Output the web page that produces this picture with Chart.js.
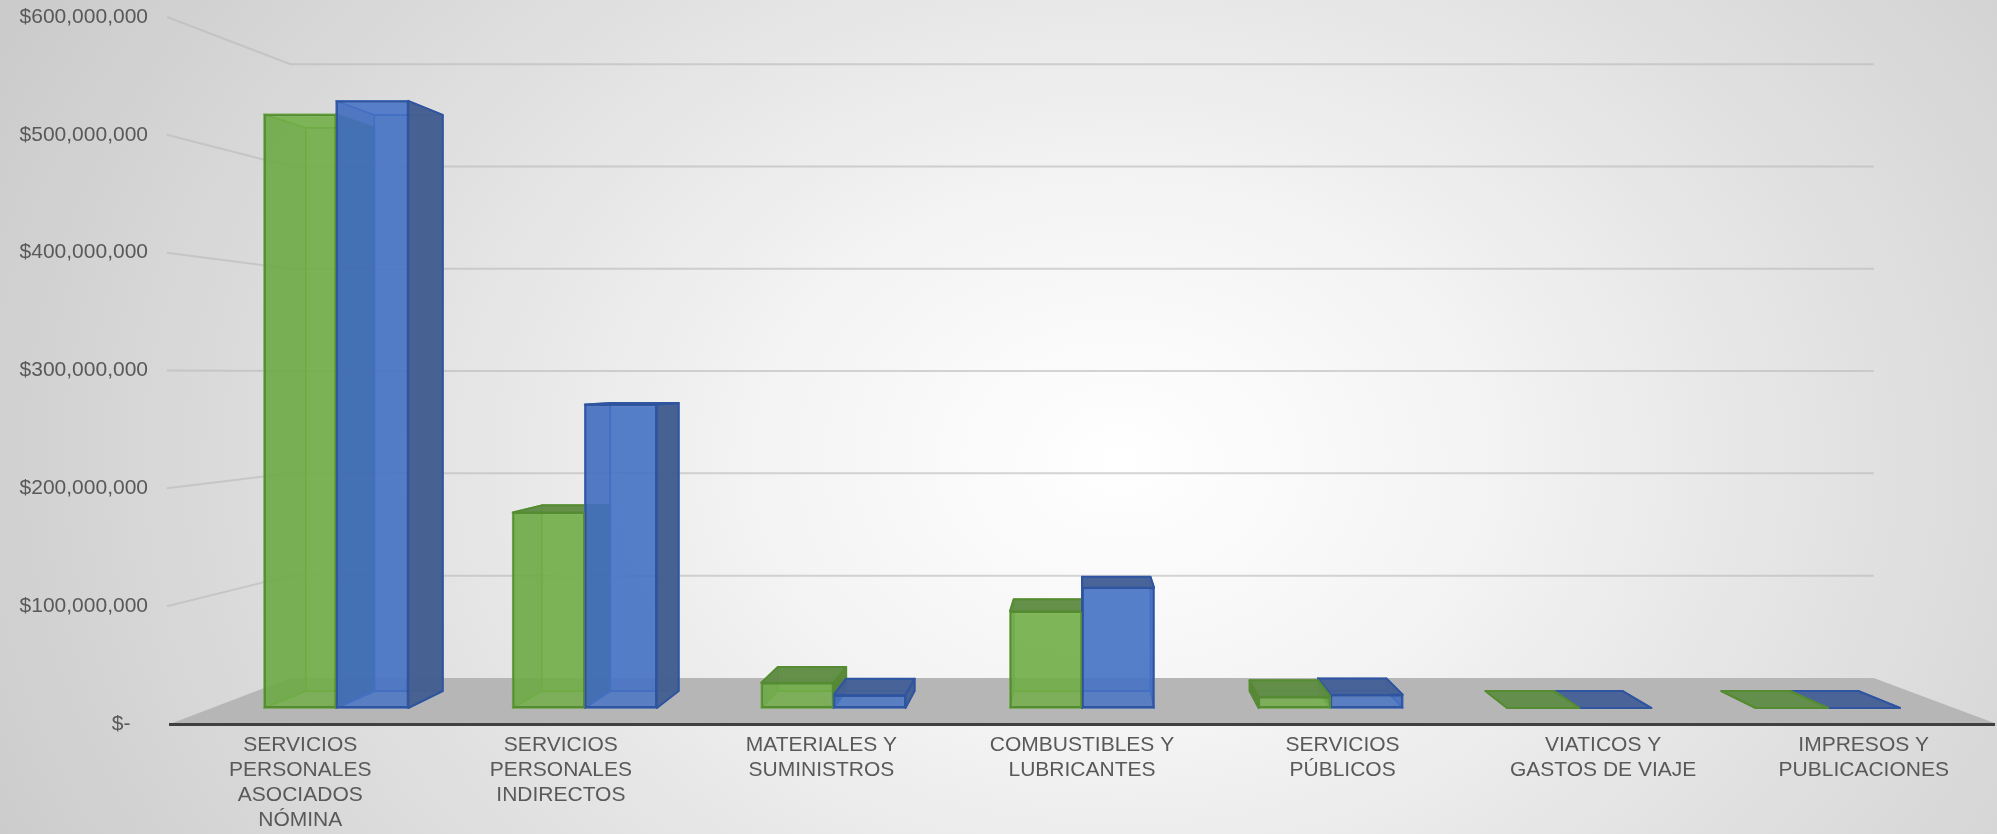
<!DOCTYPE html>
<html lang="es">
<head>
<meta charset="utf-8">
<title>Gastos por concepto</title>
<script src="https://cdn.jsdelivr.net/npm/chart.js@4.4.1/dist/chart.umd.min.js"></script>
<style>
  html, body { margin: 0; padding: 0; overflow: hidden; }
  body {
    width: 1997px;
    height: 834px;
    background: radial-gradient(ellipse 1250px 950px at 1120px 460px, #ffffff 0%, #f4f4f4 28%, #e1e1e1 60%, #cbcbcb 100%);
  }
  #wrap { position: relative; width: 1997px; height: 834px; }
</style>
</head>
<body>
<div id="wrap"><canvas id="gastosChart"></canvas></div>
<script>
const categorias = [
    ['SERVICIOS', 'PERSONALES', 'ASOCIADOS', 'NÓMINA'],
    ['SERVICIOS', 'PERSONALES', 'INDIRECTOS'],
    ['MATERIALES Y', 'SUMINISTROS'],
    ['COMBUSTIBLES Y', 'LUBRICANTES'],
    ['SERVICIOS', 'PÚBLICOS'],
    ['VIATICOS Y', 'GASTOS DE VIAJE'],
    ['IMPRESOS Y', 'PUBLICACIONES']
];
const serieVerde = [528000000, 174000000, 22500000, 86000000, 10000000, 0, 0];
const serieAzul = [540000000, 270000000, 11500000, 107000000, 11800000, 0, 0];
const ejeMax = 600000000;
const ejePaso = 100000000;

// perspectiva: cada plano paralelo a la pantalla se escala hacia el punto de fuga
const PUNTO_FUGA = { x: 1083, y: 375 };
const PROF_FRENTE = 0.9542;
const PROF_FONDO = 0.9054;
const PROF_PARED = 0.868;

function proyectar(x, y, k) {
    return [PUNTO_FUGA.x + (x - PUNTO_FUGA.x) * k, PUNTO_FUGA.y + (y - PUNTO_FUGA.y) * k];
}

function poligono(ctx, pts, relleno, linea, grosor) {
    ctx.beginPath();
    ctx.moveTo(pts[0][0], pts[0][1]);
    for (let i = 1; i < pts.length; i++) ctx.lineTo(pts[i][0], pts[i][1]);
    ctx.closePath();
    if (relleno) { ctx.fillStyle = relleno; ctx.fill(); }
    if (linea) { ctx.strokeStyle = linea; ctx.lineWidth = grosor; ctx.lineJoin = 'round'; ctx.stroke(); }
}

const carasVerde = {
    interior: 'rgba(112,173,71,0.45)',
    ladoInterior: 'rgba(84,130,53,0.45)',
    tapaInterior: 'rgba(150,200,110,0.5)',
    aristaInterior: 'rgba(100,165,60,0.9)',
    lado: 'rgba(84,130,53,0.92)',
    tapa: 'rgba(96,140,70,0.95)',
    arista: '#558C32'
};
const carasAzul = {
    interior: 'rgba(68,114,196,0.45)',
    ladoInterior: 'rgba(47,82,143,0.5)',
    tapaInterior: 'rgba(110,150,220,0.5)',
    aristaInterior: 'rgba(60,100,185,0.9)',
    lado: 'rgba(68,95,143,0.97)',
    tapa: 'rgba(68,96,150,0.95)',
    arista: '#2F55A0'
};

function dibujarCaja(ctx, b) {
    const x0 = b.x - b.width / 2, x1 = b.x + b.width / 2;
    const yt = Math.min(b.y, b.base), yb = Math.max(b.y, b.base);
    const esq = [[x0, yt], [x1, yt], [x1, yb], [x0, yb]];
    const F = esq.map(p => proyectar(p[0], p[1], PROF_FRENTE));
    const B = esq.map(p => proyectar(p[0], p[1], PROF_FONDO));
    const c = b.caras;
    const aLaIzquierda = b.x < PUNTO_FUGA.x;
    const tapaVisible = F[0][1] > PUNTO_FUGA.y;

    // caras ocultas, se ven a traves del frente
    poligono(ctx, B, c.interior, c.aristaInterior, 1.5);
    const ladoOculto = aLaIzquierda ? [F[0], B[0], B[3], F[3]] : [F[1], B[1], B[2], F[2]];
    poligono(ctx, ladoOculto, c.ladoInterior, c.aristaInterior, 1.5);
    poligono(ctx, [F[3], F[2], B[2], B[3]], null, c.aristaInterior, 1.5);
    if (!tapaVisible) poligono(ctx, [F[0], F[1], B[1], B[0]], c.tapaInterior, c.aristaInterior, 1.5);

    // caras visibles
    const ladoVisible = aLaIzquierda ? [F[1], B[1], B[2], F[2]] : [F[0], B[0], B[3], F[3]];
    poligono(ctx, ladoVisible, c.lado, c.arista, 2);
    if (tapaVisible) poligono(ctx, [F[0], F[1], B[1], B[0]], c.tapa, c.arista, 2);
}

const escena3d = {
    id: 'escena3d',
    beforeDraw(chart) {
        const ctx = chart.ctx;
        const area = chart.chartArea;
        const y = chart.scales.y;
        const base = y.getPixelForValue(0);
        ctx.save();
        // lineas de division en la pared lateral y la del fondo
        ctx.strokeStyle = 'rgba(185,185,185,0.6)';
        ctx.lineWidth = 2;
        for (let v = ejePaso; v <= ejeMax; v += ejePaso) {
            const py = y.getPixelForValue(v);
            const a = proyectar(area.left, py, PROF_PARED);
            const b = proyectar(area.right, py, PROF_PARED);
            ctx.beginPath();
            ctx.moveTo(area.left - 3, py);
            ctx.lineTo(a[0], a[1]);
            ctx.lineTo(b[0], b[1]);
            ctx.stroke();
        }
        // piso
        poligono(ctx, [
            [area.left, base],
            proyectar(area.left, base, PROF_PARED),
            proyectar(area.right, base, PROF_PARED),
            [chart.width, base]
        ], '#b6b6b6', null, 0);
        ctx.restore();
    },
    beforeDatasetsDraw(chart) {
        const ctx = chart.ctx;
        const cajas = [];
        chart.data.datasets.forEach((ds, i) => {
            chart.getDatasetMeta(i).data.forEach(el => {
                const p = el.getProps(['x', 'y', 'base', 'width'], true);
                cajas.push({ x: p.x, y: p.y, base: p.base, width: p.width, caras: ds.caras });
            });
        });
        cajas.sort((a, b) => Math.abs(b.x - PUNTO_FUGA.x) - Math.abs(a.x - PUNTO_FUGA.x));
        ctx.save();
        cajas.forEach(b => dibujarCaja(ctx, b));
        ctx.restore();
        // el frente de cada barra se dibuja en su plano
        ctx.save();
        ctx.translate(PUNTO_FUGA.x, PUNTO_FUGA.y);
        ctx.scale(PROF_FRENTE, PROF_FRENTE);
        ctx.translate(-PUNTO_FUGA.x, -PUNTO_FUGA.y);
    },
    afterDatasetsDraw(chart) {
        chart.ctx.restore();
    }
};

const fuente = { family: "'Liberation Sans', Arial, sans-serif", size: 21 };

new Chart(document.getElementById('gastosChart').getContext('2d'), {
    type: 'bar',
    data: {
        labels: categorias,
        datasets: [
            {
                label: 'Serie 1',
                data: serieVerde,
                backgroundColor: 'rgba(112,173,71,0.82)',
                borderColor: '#558C32',
                borderWidth: 2,
                borderSkipped: false,
                caras: carasVerde,
                clip: false
            },
            {
                label: 'Serie 2',
                data: serieAzul,
                backgroundColor: 'rgba(68,114,196,0.82)',
                borderColor: '#2F55A0',
                borderWidth: 2,
                borderSkipped: false,
                caras: carasAzul,
                clip: false
            }
        ]
    },
    options: {
        responsive: true,
        maintainAspectRatio: false,
        animation: false,
        layout: { padding: { top: 17, right: 3, left: 0, bottom: 0 } },
        datasets: { bar: { categoryPercentage: 0.58, barPercentage: 1 } },
        plugins: { legend: { display: false }, tooltip: { enabled: false } },
        scales: {
            x: {
                grid: { display: false, drawTicks: false },
                border: { display: true, color: '#404040', width: 3 },
                ticks: {
                    color: '#595959',
                    font: { ...fuente, lineHeight: 1.19 },
                    padding: 9,
                    autoSkip: false,
                    maxRotation: 0,
                    minRotation: 0
                },
                afterFit: s => { s.height = 110; }
            },
            y: {
                min: 0,
                max: ejeMax,
                grid: { display: false, drawTicks: false },
                border: { display: false },
                ticks: {
                    stepSize: ejePaso,
                    color: '#595959',
                    font: fuente,
                    padding: 22,
                    callback: v => v === 0 ? '$-   ' : '$' + v.toLocaleString('en-US')
                },
                afterFit: s => {
                    s.width = 170;
                    s.paddingTop = 0;
                    s.paddingBottom = 0;
                }
            }
        }
    },
    plugins: [escena3d]
});
</script>
</body>
</html>
